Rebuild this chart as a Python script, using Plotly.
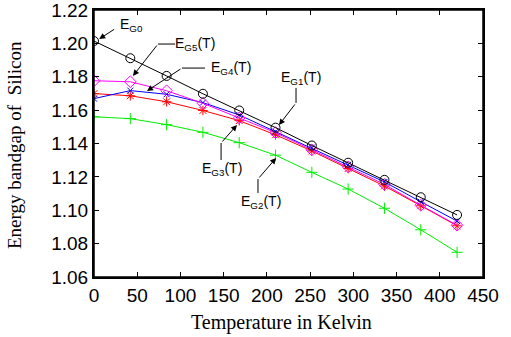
import plotly.graph_objects as go

T = [0, 42, 84, 126, 168, 210, 252, 294, 336, 378, 420]
EG1 = [1.2014, 1.1911, 1.1805, 1.1698, 1.1598, 1.1495, 1.1388, 1.1285, 1.1182, 1.1078, 1.0972]
EG2 = [1.1560, 1.1549, 1.1513, 1.1467, 1.1405, 1.1330, 1.1227, 1.1127, 1.1012, 1.0883, 1.0748]
EG3 = [1.1699, 1.1686, 1.1650, 1.1598, 1.1537, 1.1452, 1.1355, 1.1250, 1.1145, 1.1027, 1.0907]
EG4 = [1.1669, 1.1717, 1.1695, 1.1645, 1.1571, 1.1471, 1.1375, 1.1272, 1.1170, 1.1051, 1.0935]
EG5 = [1.1776, 1.1770, 1.1716, 1.1641, 1.1553, 1.1465, 1.1362, 1.1260, 1.1155, 1.1030, 1.0910]

x_ticks = [0, 50, 100, 150, 200, 250, 300, 350, 400, 450]
y_ticks = [1.06, 1.08, 1.10, 1.12, 1.14, 1.16, 1.18, 1.20, 1.22]

x_title = "Temperature in Kelvin"
y_title = "Energy bandgap of  Silicon"

fig = go.Figure()

def add(y, color, symbol, size):
    fig.add_trace(go.Scatter(
        x=T, y=y, mode="lines+markers",
        line=dict(color=color, width=1),
        marker=dict(symbol=symbol, size=size, color=color,
                    line=dict(color=color, width=1)),
        showlegend=False, hoverinfo="skip"))

add(EG2, "#00ee00", "cross-thin-open", 8)
add(EG3, "#ff0000", "asterisk-open", 8)
add(EG4, "#0000ff", "x-thin-open", 6)
add(EG5, "#ff00ff", "diamond-open", 9)
add(EG1, "#000000", "circle-open", 9)

label_font = dict(family="Liberation Sans, Arial", size=14, color="black")

labels = [
    ("E<sub>G0</sub>", 43, 1.2108),
    ("E<sub>G5</sub>(T)", 117, 1.1996),
    ("E<sub>G4</sub>(T)", 159, 1.1850),
    ("E<sub>G1</sub>(T)", 239, 1.1791),
    ("E<sub>G3</sub>(T)", 148, 1.1245),
    ("E<sub>G2</sub>(T)", 193, 1.1048),
]
for txt, lx, ly in labels:
    fig.add_annotation(x=lx, y=ly, text=txt, showarrow=False, font=label_font,
                       xref="x", yref="y")

segs = [
    (93.7, 1.1996, 74.0, 1.1996),
    (128.4, 1.1852, 101.8, 1.1852),
    (233.7, 1.1733, 233.7, 1.1643),
    (147.0, 1.1301, 147.0, 1.1403),
    (189.7, 1.1103, 189.7, 1.1187),
]
for x0, y0, x1, y1 in segs:
    fig.add_shape(type="line", x0=x0, y0=y0, x1=x1, y1=y1, xref="x", yref="y",
                  line=dict(color="black", width=1))

arrows = [
    (25.0, 1.2090, 6.0, 1.2026),
    (74.0, 1.1996, 45.1, 1.1805),
    (101.8, 1.1852, 61.3, 1.1715),
    (233.7, 1.1643, 214.0, 1.1511),
    (147.0, 1.1403, 165.4, 1.1511),
    (189.7, 1.1187, 210.6, 1.1313),
]
for ax, ay, hx, hy in arrows:
    fig.add_annotation(x=hx, y=hy, ax=ax, ay=ay, xref="x", yref="y",
                       axref="x", ayref="y", text="", showarrow=True,
                       arrowhead=2, arrowsize=1.2, arrowwidth=1, arrowcolor="black",
                       standoff=0, startstandoff=0)

fig.add_annotation(x=0.482, y=-0.172, xref="paper", yref="paper", text=x_title,
                   showarrow=False, xanchor="center", yanchor="middle",
                   font=dict(family="Liberation Serif, Times New Roman", size=20, color="black"))
fig.add_annotation(x=-0.2057, y=0.494, xref="paper", yref="paper", text=y_title,
                   showarrow=False, textangle=-90, xanchor="center", yanchor="middle",
                   font=dict(family="Liberation Serif, Times New Roman", size=19, color="black"))

# plot frame (top/right thinner)
fig.add_shape(type="rect", x0=0, y0=0, x1=1, y1=1, xref="paper", yref="paper",
              line=dict(color="black", width=1.5), layer="above")

axis_common = dict(showline=True, linecolor="black", linewidth=2, mirror="ticks",
                   ticks="inside", ticklen=5, tickcolor="black", tickwidth=1,
                   showgrid=False, zeroline=False, automargin=False,
                   ticklabeloverflow="allow",
                   tickfont=dict(family="Liberation Sans, Arial", size=19, color="black"))

fig.update_xaxes(range=[0, 450], tickvals=x_ticks, ticktext=[str(v) for v in x_ticks],
                 **axis_common)
fig.update_yaxes(range=[1.06, 1.22], tickvals=y_ticks, ticktext=[f"{v:.2f}" for v in y_ticks],
                 **axis_common)

fig.update_layout(width=511, height=337, margin=dict(l=94, r=28, t=10, b=60),
                  plot_bgcolor="white", paper_bgcolor="white", hovermode=False)

fig.write_html("out.html", config={"displayModeBar": False, "staticPlot": True},
               post_script="document.body.style.margin='0px';document.body.style.overflow='hidden';")
